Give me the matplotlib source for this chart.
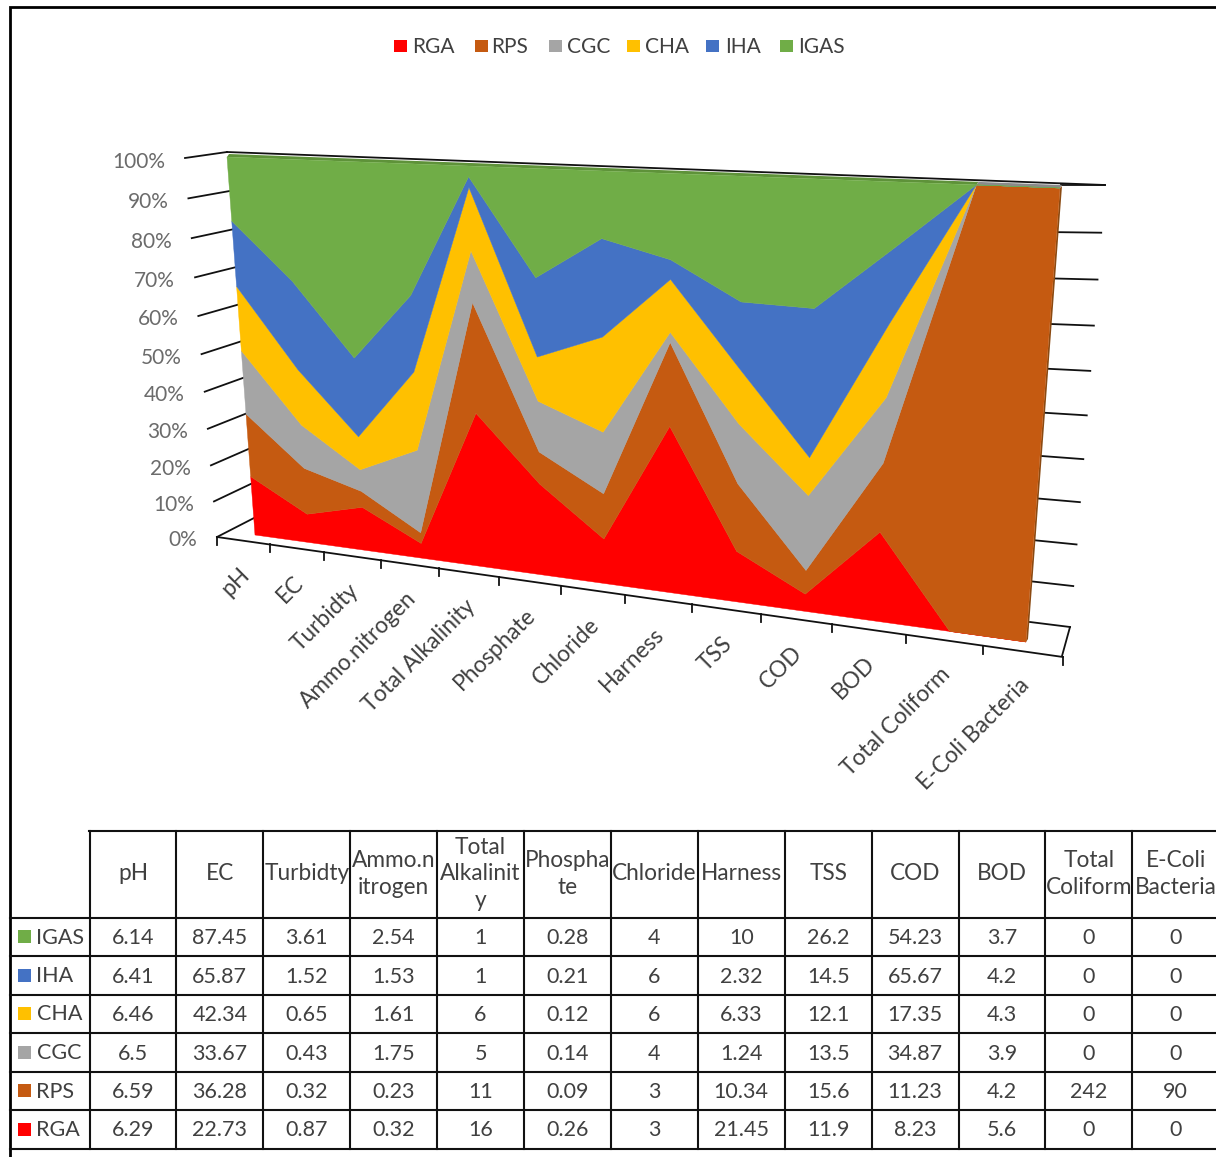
import numpy as np
import matplotlib
matplotlib.use("Agg")
import matplotlib.pyplot as plt
from matplotlib.patches import Rectangle

plt.rcParams['font.family'] = ['Lato', 'DejaVu Sans']

# ------------ data ------------

categories = ["pH", "EC", "Turbidty", "Ammo.nitrogen", "Total Alkalinity", "Phosphate",
              "Chloride", "Harness", "TSS", "COD", "BOD", "Total Coliform", "E-Coli Bacteria"]
# table headers wrap inside the narrow columns
header_labels = ["pH", "EC", "Turbidty", "Ammo.n\nitrogen", "Total\nAlkalinit\ny", "Phospha\nte",
                 "Chloride", "Harness", "TSS", "COD", "BOD", "Total\nColiform", "E-Coli\nBacteria"]

rga = [6.29, 22.73, 0.87, 0.32, 16, 0.26, 3, 21.45, 11.9, 8.23, 5.6, 0, 0]
rps = [6.59, 36.28, 0.32, 0.23, 11, 0.09, 3, 10.34, 15.6, 11.23, 4.2, 242, 90]
cgc = [6.5, 33.67, 0.43, 1.75, 5, 0.14, 4, 1.24, 13.5, 34.87, 3.9, 0, 0]
cha = [6.46, 42.34, 0.65, 1.61, 6, 0.12, 6, 6.33, 12.1, 17.35, 4.3, 0, 0]
iha = [6.41, 65.87, 1.52, 1.53, 1, 0.21, 6, 2.32, 14.5, 65.67, 4.2, 0, 0]
igas = [6.14, 87.45, 3.61, 2.54, 1, 0.28, 4, 10, 26.2, 54.23, 3.7, 0, 0]

series_names = ["RGA", "RPS", "CGC", "CHA", "IHA", "IGAS"]
series_values = [rga, rps, cgc, cha, iha, igas]
series_colors = ["#FF0000", "#C55A11", "#A5A5A5", "#FFC000", "#4472C4", "#70AD47"]

percent_ticks = [0, 10, 20, 30, 40, 50, 60, 70, 80, 90, 100]

TEXT_DARK = "#404040"
TEXT_AXIS = "#6B6B6B"
FONT_SIZE = 15
LABEL_SIZE = 16.3


# ------------ perspective helpers ------------

def quad_map(p00, p10, p01, p11):
    """Homography taking the unit square onto a quad, returned as f(u, v) -> (x, y)."""
    (x0, y0), (x1, y1), (x2, y2), (x3, y3) = p00, p10, p11, p01
    dx1, dx2, sx = x1 - x2, x3 - x2, x0 - x1 + x2 - x3
    dy1, dy2, sy = y1 - y2, y3 - y2, y0 - y1 + y2 - y3
    g, h = np.linalg.solve([[dx1, dx2], [dy1, dy2]], [sx, sy])
    a, b, c = x1 - x0 + g * x1, x3 - x0 + h * x3, x0
    d, e, f = y1 - y0 + g * y1, y3 - y0 + h * y3, y0

    def project(u, v):
        w = g * u + h * v + 1
        return (a * u + b * v + c) / w, (d * u + e * v + f) / w
    return project


def lerp(p, q, t):
    return p[0] + (q[0] - p[0]) * t, p[1] + (q[1] - p[1]) * t


# plane holding the stacked areas (category position, percent)
area_plane = quad_map((255, 535), (1026, 642), (227, 157), (1060, 188))
# plane through the front axis, used to space the category ticks
front_plane = quad_map((217, 537), (1063, 657), (185, 158), (1105, 185))


def wall_fraction(side, pct):
    """Height along a wall edge, foreshortened like the area plane."""
    y0 = area_plane(side, 0)[1]
    y1 = area_plane(side, 1)[1]
    return (area_plane(side, pct / 100)[1] - y0) / (y1 - y0)


# ------------ canvas in pixel units ------------

fig = plt.figure(figsize=(12.16, 11.57), dpi=100)
ax = fig.add_axes([0, 0, 1, 1])
ax.set_xlim(0, 1216)
ax.set_ylim(1157, 0)
ax.axis("off")

# outer frame
ax.plot([9.5, 9.5, 1216], [1157, 7, 7], color="black", lw=2.0, solid_joinstyle="miter")

# ------------ legend ------------

legend_swatch_x = [394, 475, 549, 627, 706, 780]
legend_text_x = [412.5, 491.5, 566.5, 645.5, 725.5, 798.5]
for name, color, sx, tx in zip(series_names, series_colors, legend_swatch_x, legend_text_x):
    ax.add_patch(Rectangle((sx, 40), 13, 12, color=color, lw=0))
    ax.text(tx, 47, name, fontsize=FONT_SIZE, color=TEXT_DARK, ha="left", va="center")

# ------------ walls, floor and ticks ------------

LINE_W = 1.3
left_outer = ((217, 537), (185, 158))
left_inner = ((254, 518), (227, 152))
right_outer = ((1070, 627), (1105, 185))
right_inner = ((1030, 622), (1061, 185))

for pct in percent_ticks:
    t = wall_fraction(0, pct)
    ox, oy = lerp(*left_outer, t)
    ix, iy = lerp(*left_inner, t)
    ax.plot([ox, ix], [oy, iy], color="#111111", lw=LINE_W, zorder=1)
    ax.text(ox - 20, oy + 3.5, f"{pct}%", fontsize=FONT_SIZE, color=TEXT_AXIS,
            ha="right", va="center")

    t = wall_fraction(1, pct)
    ox, oy = lerp(*right_outer, t)
    ix, iy = lerp(*right_inner, t)
    ax.plot([ix, ox], [iy, oy], color="#111111", lw=LINE_W, zorder=1)

# top edge of the back wall and the floor outline
ax.plot([227, 1105], [152, 185], color="#111111", lw=LINE_W, zorder=1)
ax.plot([1070, 1062], [627, 656], color="#111111", lw=LINE_W, zorder=1)

x0, y0 = front_plane(0, 0)
x1, y1 = front_plane(1, 0)
ax.plot([x0, x1], [y0, y1], color="#111111", lw=LINE_W, zorder=1)
for i in range(len(categories) + 1):
    tx, ty = front_plane(i / len(categories), 0)
    ax.plot([tx, tx], [ty, ty + 8], color="#111111", lw=LINE_W, zorder=1)

for i, label in enumerate(categories):
    tx, ty = front_plane((i + 0.5) / len(categories), 0)
    ax.text(tx + 3, ty + 31, label, fontsize=LABEL_SIZE, color=TEXT_DARK, rotation=45,
            rotation_mode="anchor", ha="right", va="center")

# ------------ 100% stacked areas ------------

values = np.array(series_values, dtype=float)
percents = values / values.sum(axis=0) * 100
stacked = np.vstack([np.zeros(values.shape[1]), np.cumsum(percents, axis=0)])
u = np.arange(values.shape[1]) / (values.shape[1] - 1)

for k, color in enumerate(series_colors):
    xb, yb = area_plane(u, stacked[k] / 100)
    xt, yt = area_plane(u, stacked[k + 1] / 100)
    ax.fill(np.r_[xb, xt[::-1]], np.r_[yb, yt[::-1]], color=color, lw=0.3, zorder=3)

# thin top and side faces that give the block its depth
top_faces = [(u[:-1], "#5E9239"), (u[-2:], "#8A8A8A")]
for span, color in top_faces:
    xs, ys = area_plane(span, np.ones_like(span))
    ax.fill(np.r_[xs, (xs + 2)[::-1]], np.r_[ys, (ys - 3)[::-1]], color=color, lw=0, zorder=2)

xs, ys = area_plane(np.array([1.0, 1.0]), np.array([0.0, 1.0]))
ax.fill([xs[0], xs[1], xs[1] + 2, xs[0] + 2], [ys[0], ys[1], ys[1] - 2, ys[0] - 3],
        color="#8B4A12", lw=0, zorder=2)

# ------------ data table ------------

col_x = [89.5 + 86.9 * i for i in range(14)]
row_y = [830.5, 917.5, 956, 994.5, 1032.5, 1071.5, 1109.5, 1148.5]

ax.plot([89, 1216], [row_y[0], row_y[0]], color="#111111", lw=1.5, zorder=4)
for y in row_y[1:]:
    ax.plot([10, 1216], [y, y], color="#111111", lw=1.5, zorder=4)
for x in col_x[:-1]:
    ax.plot([x, x], [row_y[0], row_y[-1]], color="#111111", lw=1.5, zorder=4)

for i, label in enumerate(header_labels):
    cx = (col_x[i] + col_x[i + 1]) / 2
    ax.text(cx, (row_y[0] + row_y[1]) / 2, label, fontsize=LABEL_SIZE, color=TEXT_DARK,
            ha="center", va="center", linespacing=1.32, clip_on=True)

# table rows run from the top of the stack downwards
for r, k in enumerate(range(len(series_names) - 1, -1, -1)):
    top, bottom = row_y[r + 1], row_y[r + 2]
    cy = (top + bottom) / 2
    ax.add_patch(Rectangle((18, cy - 6.5), 13, 13, color=series_colors[k], lw=0))
    ax.text(36.5, cy + 1, series_names[k], fontsize=FONT_SIZE + 0.5, color=TEXT_DARK, ha="left", va="center")
    for i, value in enumerate(series_values[k]):
        cx = (col_x[i] + col_x[i + 1]) / 2
        ax.text(cx, cy + 1.5, f"{value:g}", fontsize=FONT_SIZE + 0.5, color=TEXT_DARK, ha="center", va="center")

fig.savefig("out.png", dpi=100, facecolor="white")
